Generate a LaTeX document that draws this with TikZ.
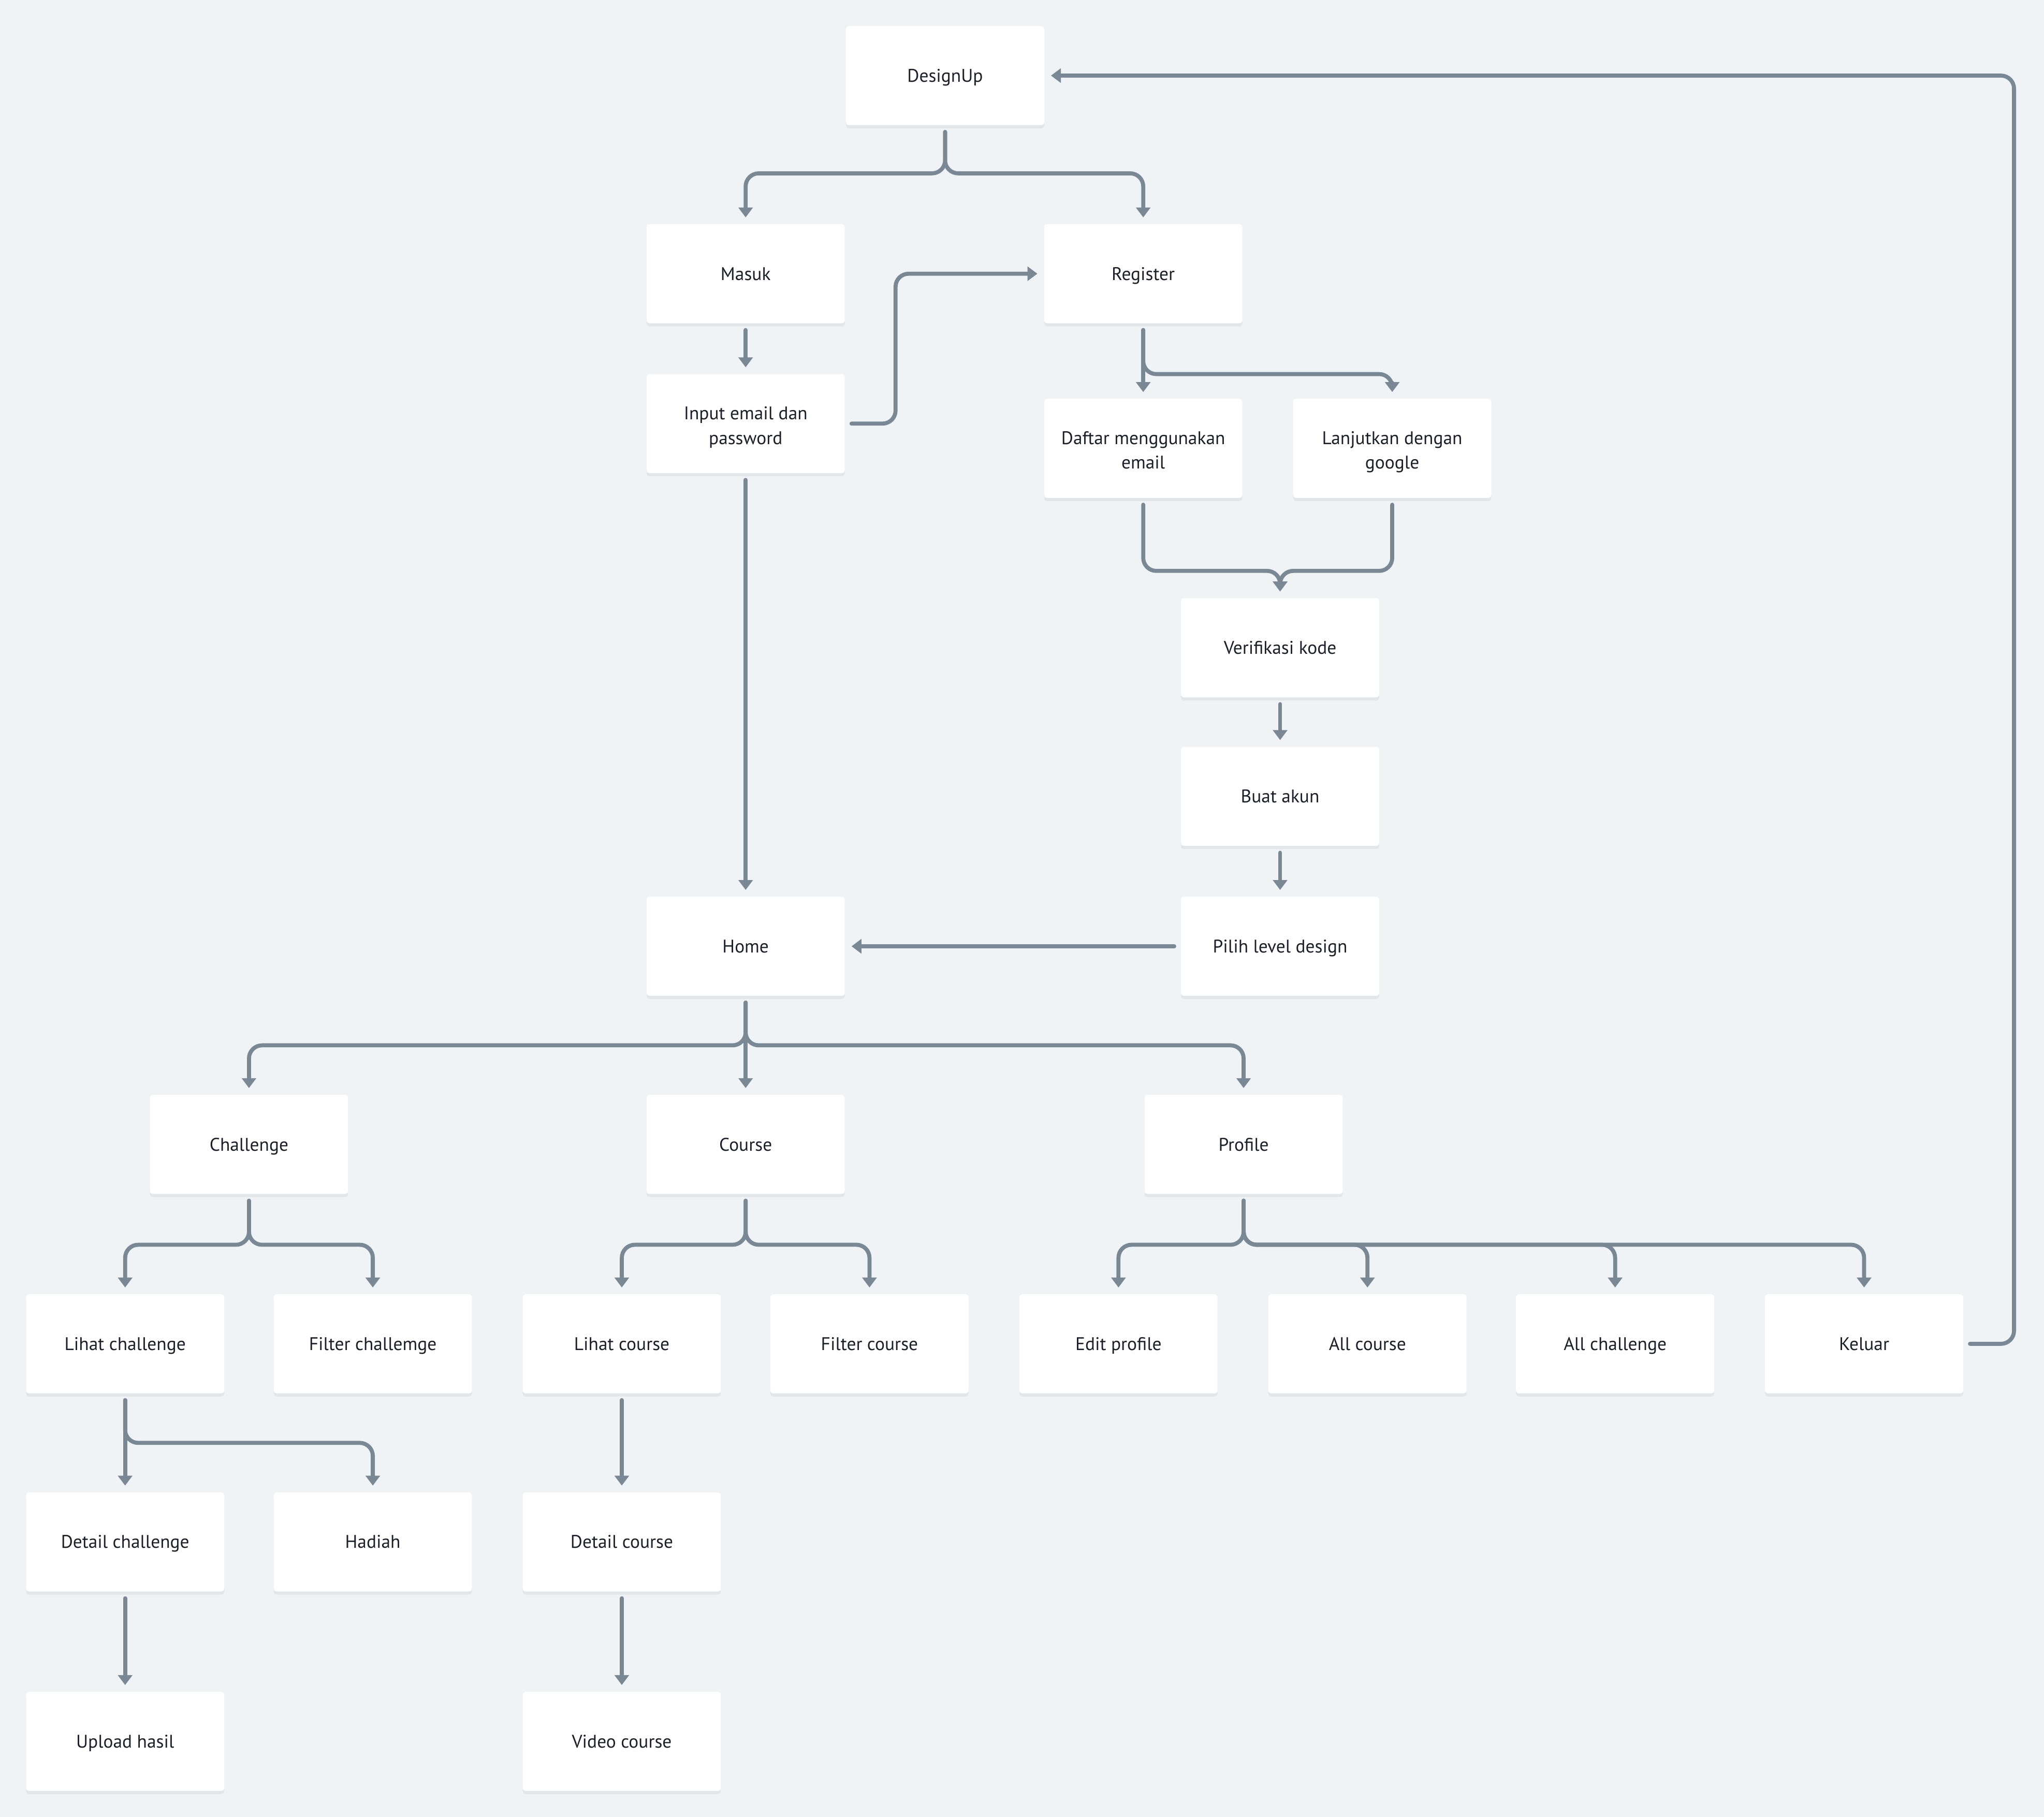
\documentclass[tikz,border=0pt]{standalone}
\usepackage{fontspec}
\setmainfont{PT Sans}
\usetikzlibrary{arrows.meta,shadows}

\definecolor{canvas}{HTML}{EFF3F6}
\definecolor{wire}{HTML}{7A8896}
\definecolor{ink}{HTML}{1B1F27}

\newcommand{\liftline}{\rule{0pt}{13pt}}

\tikzset{
  card/.style={fill=white, rounded corners=1.5pt, minimum width=3.8cm,
    minimum height=1.9cm, inner sep=0pt, outer sep=0.13cm, align=center,
    text=ink, font=\fontsize{10}{13.5}\selectfont,
    execute at begin node=\rule{0pt}{11pt}, execute at end node=\strut,
    drop shadow={shadow xshift=0pt, shadow yshift=-0.6mm, opacity=0.05, fill=black}},
  flow/.style={draw=wire, line width=2.2pt, line cap=round,
    rounded corners=0.25cm, -{Triangle[width=2.7mm,length=1.9mm]}}
}

\begin{document}
\begin{tikzpicture}[x=0.025cm, y=-0.025cm]
\fill[canvas] (0,0) rectangle (1568,1394);
\useasboundingbox (0,0) rectangle (1568,1394);

% login / register
\node[card] (designup) at (725,58) {DesignUp};
\node[card] (masuk) at (572,210) {Masuk};
\node[card] (register) at (877,210) {Register};
\node[card] (input) at (572,325) {\liftline Input email dan\\password};
\node[card] (daftar) at (877,344) {\liftline Daftar menggunakan\\email};
\node[card] (google) at (1068,344) {\liftline Lanjutkan dengan\\google};
\node[card] (verif) at (982,497) {Verifikasi kode};
\node[card] (akun) at (982,611) {Buat akun};
\node[card] (level) at (982,726) {Pilih level design};
\node[card] (home) at (572,726) {Home};

% main menu
\node[card] (challenge) at (191,878) {Challenge};
\node[card] (course) at (572,878) {Course};
\node[card] (profile) at (954,878) {Profile};

\node[card] (lihatch) at (96,1031) {Lihat challenge};
\node[card] (filterch) at (286,1031) {Filter challemge};
\node[card] (lihatco) at (477,1031) {Lihat course};
\node[card] (filterco) at (667,1031) {Filter course};
\node[card] (edit) at (858,1031) {Edit profile};
\node[card] (allco) at (1049,1031) {All course};
\node[card] (allch) at (1239,1031) {All challenge};
\node[card] (keluar) at (1430,1031) {Keluar};

\node[card] (detailch) at (96,1183) {Detail challenge};
\node[card] (hadiah) at (286,1183) {Hadiah};
\node[card] (detailco) at (477,1183) {Detail course};
\node[card] (upload) at (96,1336) {Upload hasil};
\node[card] (video) at (477,1336) {Video course};

% connectors
\draw[flow] (designup.south) -- (725,133) -| (masuk.north);
\draw[flow] (designup.south) -- (725,133) -| (register.north);
\draw[flow] (masuk.south) -- (input.north);
\draw[flow] (input.east) -- (687,325) |- (register.west);
\draw[flow] (input.south) -- (home.north);
\draw[flow] (register.south) -- (daftar.north);
\draw[flow] (register.south) -- (877,287) -| (google.north);
\draw[flow] (daftar.south) |- (982,438) -- (verif.north);
\draw[flow] (google.south) |- (982,438) -- (verif.north);
\draw[flow] (verif.south) -- (akun.north);
\draw[flow] (akun.south) -- (level.north);
\draw[flow] (level.west) -- (home.east);

\draw[flow] (home.south) -- (572,802) -| (challenge.north);
\draw[flow] (home.south) -- (course.north);
\draw[flow] (home.south) -- (572,802) -| (profile.north);

\foreach \t in {lihatch,filterch}
  \draw[flow] (challenge.south) -- (191,955) -| (\t.north);
\foreach \t in {lihatco,filterco}
  \draw[flow] (course.south) -- (572,955) -| (\t.north);
\foreach \t in {edit,allco,allch,keluar}
  \draw[flow] (profile.south) -- (954,955) -| (\t.north);

\draw[flow] (lihatch.south) -- (detailch.north);
\draw[flow] (lihatch.south) -- (96,1107) -| (hadiah.north);
\draw[flow] (detailch.south) -- (upload.north);
\draw[flow] (lihatco.south) -- (detailco.north);
\draw[flow] (detailco.south) -- (video.north);

% back to start
\draw[flow] (keluar.east) -- (1545,1031) |- (designup.east);
\end{tikzpicture}
\end{document}
